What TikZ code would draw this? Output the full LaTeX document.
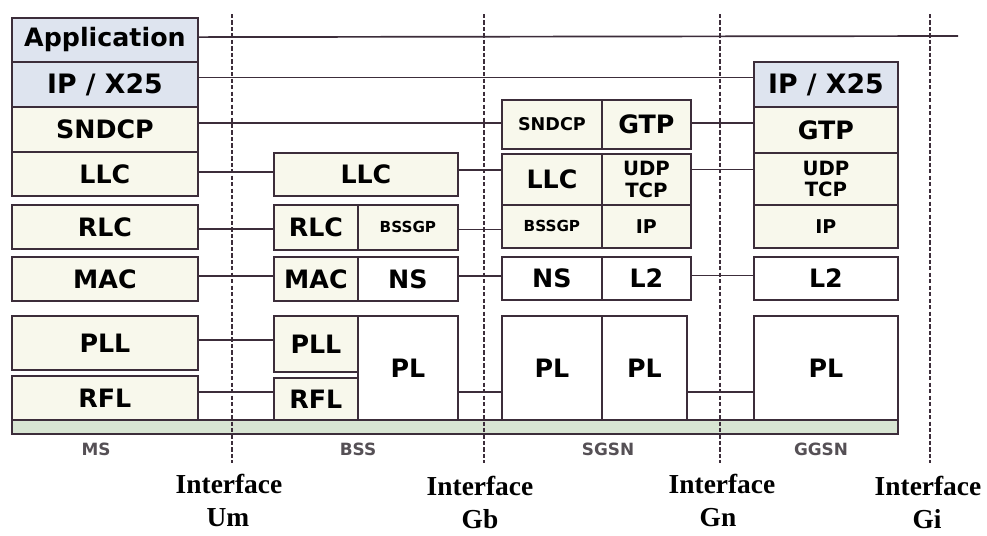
\documentclass[tikz,border=0pt]{standalone}
\usepackage{fontspec}
\setmainfont{DejaVu Sans}
\newfontfamily\ifacefont{Liberation Serif}
\usepackage{tikz}
\usetikzlibrary{positioning}

\definecolor{boxline}{RGB}{60,45,58}
\definecolor{bluefill}{RGB}{222,228,239}
\definecolor{creamfill}{RGB}{248,248,236}
\definecolor{greenfill}{RGB}{216,229,211}
\definecolor{labelgray}{RGB}{85,80,85}

\tikzset{
	layer/.style 2 args={draw=boxline, line width=1.3pt, inner sep=0pt, anchor=north west,
		minimum width=#1*0.025cm, minimum height=#2*0.025cm, align=center,
		font=\bfseries\fontsize{18}{20}\selectfont},
	blue/.style={fill=bluefill}, cream/.style={fill=creamfill}, plain/.style={fill=white},
	smalltxt/.style={font=\bfseries\fontsize{10.8}{12}\selectfont},
	midtxt/.style={font=\bfseries\fontsize{13.5}{15}\selectfont},
	iptxt/.style={font=\bfseries\fontsize{19}{21}\selectfont},
	link/.style={draw=boxline, line width=1.2pt},
	iface/.style={draw=boxline, line width=0.8pt, dash pattern=on 3pt off 1.6pt},
	ifacetxt/.style={font=\ifacefont\bfseries\fontsize{19.5}{22}\selectfont},
	nodetxt/.style={text=labelgray, font=\bfseries\fontsize{12}{14}\selectfont}
}

\begin{document}
\begin{tikzpicture}[x=0.025cm, y=-0.025cm]
	\useasboundingbox[fill=white] (0,0) rectangle (987,535);
	% bottom bar
	\node[layer={886}{14}, fill=greenfill] (bar) at (11,419) {};
	% MS
	\node[layer={186}{44}, blue] (msapp) at (11,17) {Application};
	\node[layer={186}{45}, blue, iptxt] (msip) at (11,61) {IP / X25};
	\node[layer={186}{45}, cream] (mssndcp) at (11,106) {SNDCP};
	\node[layer={186}{44}, cream] (msllc) at (11,151) {LLC};
	\node[layer={186}{44}, cream] (msrlc) at (11,204) {RLC};
	\node[layer={186}{44}, cream] (msmac) at (11,256) {MAC};
	\node[layer={186}{54}, cream] (mspll) at (11,315) {PLL};
	\node[layer={186}{44}, cream] (msrfl) at (11,375) {RFL};
	% BSS
	\node[layer={184}{43}, cream] (bssllc) at (273,152) {LLC};
	\node[layer={84}{45}, cream] (bssrlc) at (273,204) {RLC};
	\node[layer={100}{45}, cream, smalltxt] (bssbssgp) at (357,204) {BSSGP};
	\node[layer={84}{44}, cream] (bssmac) at (273,256) {MAC};
	\node[layer={100}{44}, plain] (bssns) at (357,256) {NS};
	\node[layer={84}{56}, cream] (bsspll) at (273,315) {PLL};
	\node[layer={84}{42}, cream] (bssrfl) at (273,377) {RFL};
	\node[layer={100}{104}, plain] (bsspl) at (357,315) {PL};
	% SGSN
	\node[layer={100}{49}, cream, font=\bfseries\fontsize{12.5}{14}\selectfont] (sgsndcp) at (501,99) {SNDCP};
	\node[layer={89}{49}, cream] (sggtp) at (601,99) {GTP};
	\node[layer={100}{51}, cream] (sgllc) at (501,153) {LLC};
	\node[layer={89}{51}, cream, font=\bfseries\fontsize{14}{15}\selectfont] (sgudp) at (601,153) {UDP\\TCP};
	\node[layer={100}{43}, cream, smalltxt] (sgbssgp) at (501,204) {BSSGP};
	\node[layer={89}{43}, cream, midtxt] (sgip) at (601,204) {IP};
	\node[layer={100}{43}, plain] (sgns) at (501,256) {NS};
	\node[layer={89}{43}, plain] (sgl2) at (601,256) {L2};
	\node[layer={100}{104}, plain] (sgpla) at (501,315) {PL};
	\node[layer={85}{104}, plain] (sgplb) at (601,315) {PL};
	% GGSN
	\node[layer={144}{45}, blue, iptxt] (ggip) at (753,61) {IP / X25};
	\node[layer={144}{46}, cream] (gggtp) at (753,106) {GTP};
	\node[layer={144}{52}, cream, font=\bfseries\fontsize{14}{15}\selectfont] (ggudp) at (753,152) {UDP\\TCP};
	\node[layer={144}{43}, cream, midtxt] (ggipl) at (753,204) {IP};
	\node[layer={144}{43}, plain] (ggl2) at (753,256) {L2};
	\node[layer={144}{104}, plain] (ggpl) at (753,315) {PL};

	% peer links
	\coordinate (append) at (958,36);
	\draw[link] ([yshift=2pt]msapp.east) -- (append);
	\draw[link] ([yshift=5pt]msip.east) -- ([yshift=5pt]ggip.west);
	\draw[link] ([yshift=4.6pt]mssndcp.east) -- ([yshift=4.6pt]mssndcp.east -| sgsndcp.west);
	\draw[link] ([yshift=1pt]sggtp.east) -- ([yshift=1pt]sggtp.east -| gggtp.west);
	\draw[link] ([yshift=1.4pt]msllc.east) -- ([yshift=1.4pt]msllc.east -| bssllc.west);
	\draw[link] ([yshift=3pt]bssllc.east) -- ([yshift=3pt]bssllc.east -| sgllc.west);
	\draw[link] ([yshift=7pt]sgudp.east) -- ([yshift=7pt]sgudp.east -| ggudp.west);
	\draw[link] ([yshift=-1.4pt]msrlc.east) -- ([yshift=-1.4pt]msrlc.east -| bssrlc.west);
	\draw[link] ([yshift=-1.4pt]bssbssgp.east) -- ([yshift=-1.4pt]bssbssgp.east -| sgbssgp.west);
	\draw[link] ([yshift=2pt]msmac.east) -- ([yshift=2pt]msmac.east -| bssmac.west);
	\draw[link] ([yshift=2pt]bssns.east) -- ([yshift=2pt]bssns.east -| sgns.west);
	\draw[link] ([yshift=2pt]sgl2.east) -- ([yshift=2pt]sgl2.east -| ggl2.west);
	\draw[link] ([yshift=2pt]mspll.east) -- ([yshift=2pt]mspll.east -| bsspll.west);
	\draw[link] ([yshift=4pt]msrfl.east) -- ([yshift=4pt]msrfl.east -| bssrfl.west);
	\draw[link] ([yshift=-17pt]bsspl.east) -- ([yshift=-17pt]bsspl.east -| sgpla.west);
	\draw[link] ([yshift=-17pt]sgplb.east) -- ([yshift=-17pt]sgplb.east -| ggpl.west);

	% interfaces
	\foreach \x/\nm in {232/um, 484/gb, 720/gn, 930/gi} {
		\coordinate (\nm top) at (\x,14); \coordinate (\nm bot) at (\x,463);
		\draw[iface] (\nm top) -- (\nm bot);
	}
	\node[ifacetxt] (umif) at (229,484) {Interface}; \node[ifacetxt] (umname) at (228,518) {Um};
	\node[ifacetxt] (gbif) at (480,486) {Interface}; \node[ifacetxt] (gbname) at (480,519) {Gb};
	\node[ifacetxt] (gnif) at (722,484) {Interface}; \node[ifacetxt] (gnname) at (718,518) {Gn};
	\node[ifacetxt] (giif) at (928,486) {Interface}; \node[ifacetxt] (giname) at (927,519) {Gi};

	% network elements
	\node[nodetxt] (mslbl) at (96,449) {MS};
	\node[nodetxt] (bsslbl) at (358,449) {BSS};
	\node[nodetxt] (sgsnlbl) at (608,449) {SGSN};
	\node[nodetxt] (ggsnlbl) at (821,449) {GGSN};
\end{tikzpicture}
\end{document}
